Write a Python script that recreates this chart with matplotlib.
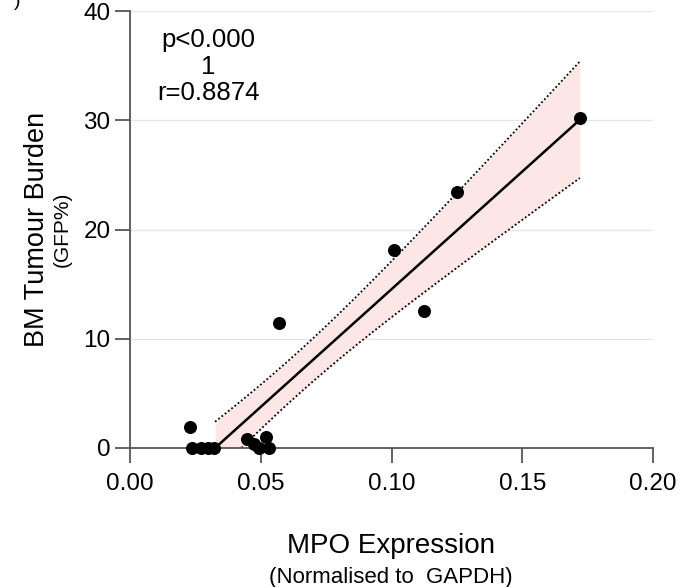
import numpy as np
import matplotlib
matplotlib.use("Agg")
import matplotlib.pyplot as plt

plt.rcParams['font.family'] = ['Liberation Sans', 'DejaVu Sans']

# Data
mpo_expression = [0.023, 0.0239, 0.0271, 0.0297, 0.0322,
                  0.0449, 0.0475, 0.0494, 0.052, 0.0533,
                  0.0571, 0.1011, 0.1124, 0.1252, 0.172]
bm_burden = [1.9, 0.0, 0.0, 0.0, 0.0,
             0.8, 0.4, 0.0, 1.0, 0.0,
             11.4, 18.1, 12.5, 23.4, 30.2]
x_ticks = [0.00, 0.05, 0.10, 0.15, 0.20]
x_tick_labels = ["0.00", "0.05", "0.10", "0.15", "0.20"]
y_ticks = [0, 10, 20, 30, 40]
stats_text = "p<0.000\n1\nr=0.8874"

x = np.array(mpo_expression)
y = np.array(bm_burden)
n = len(x)
slope, intercept = np.polyfit(x, y, 1)
resid = y - (slope * x + intercept)
s = np.sqrt(np.sum(resid ** 2) / (n - 2))
sxx = np.sum((x - x.mean()) ** 2)
t_crit = 2.160  # t(0.975, df=13)

x_start = max(x.min(), -intercept / slope)
xf = np.linspace(x_start, x.max(), 200)
yf = slope * xf + intercept
half = t_crit * s * np.sqrt(1.0 / n + (xf - x.mean()) ** 2 / sxx)

fig = plt.figure(figsize=(6.79, 5.87), dpi=100)
ax = fig.add_axes([130 / 679, 1 - 448 / 587, 523 / 679, 437 / 587])

ax.set_xlim(0, 0.20)
ax.set_ylim(0, 40)

for yt in y_ticks[1:]:
    ax.axhline(yt, color='#e6e6e6', lw=1.0, zorder=0)

ax.fill_between(xf, yf - half, yf + half, color='#fde6e6', lw=0, zorder=1)
ax.plot(xf, yf + half, color='black', lw=1.3, ls=(0, (1, 1.3)), zorder=2)
ax.plot(xf, yf - half, color='black', lw=1.3, ls=(0, (1, 1.3)), zorder=2)
ax.plot(xf, yf, color='black', lw=1.8, zorder=3)

ax.scatter(x, y, s=88, color='black', zorder=5, clip_on=False, linewidths=0)

ax.text(0.0299, 34.9, stats_text, ha='center', va='center', fontsize=18.5,
        linespacing=1.12)

for side in ['top', 'right']:
    ax.spines[side].set_visible(False)
for side in ['left', 'bottom']:
    ax.spines[side].set_color('#555555')
    ax.spines[side].set_linewidth(1.3)

ax.set_xticks(x_ticks)
ax.set_xticklabels(x_tick_labels)
ax.set_yticks(y_ticks)
ax.tick_params(axis='both', direction='out', length=11, width=1.3,
               color='#555555', labelsize=17.5, labelcolor='black')
ax.tick_params(axis='x', pad=7)
ax.tick_params(axis='y', pad=3)

# Axis titles
fig.text(391 / 679, 1 - 546 / 587, "MPO Expression", ha='center', va='center',
         fontsize=20)
fig.text(391 / 679, 1 - 577 / 587, "(Normalised to  GAPDH)", ha='center',
         va='center', fontsize=16)
fig.text(37 / 679, 1 - 229 / 587, "BM Tumour Burden", ha='center', va='center',
         rotation=90, fontsize=19.5)
fig.text(62 / 679, 1 - 229 / 587, "(GFP%)", ha='center', va='center',
         rotation=90, fontsize=15)

fig.text(17 / 679, 1 - 2 / 587, ")", ha='center', va='center', fontsize=14)

fig.savefig("out.png", dpi=100)
